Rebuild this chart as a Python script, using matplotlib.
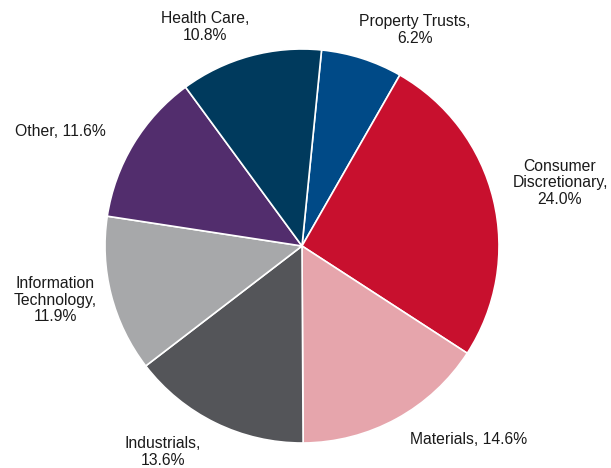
import matplotlib
matplotlib.use('Agg')
import matplotlib.pyplot as plt

# sector weights, clockwise from the top
sectors = ['Property Trusts', 'Consumer\nDiscretionary', 'Materials', 'Industrials',
           'Information\nTechnology', 'Other', 'Health Care']
weights = [6.2, 24.0, 14.6, 13.6, 11.9, 11.6, 10.8]
colors = ['#004A87', '#C8102E', '#E6A5AC', '#545559', '#A7A8AA', '#522D6D', '#003A5D']
label_fmt = ['{},\n{:.1f}%', '{},\n{:.1f}%', '{}, {:.1f}%', '{},\n{:.1f}%',
             '{},\n{:.1f}%', '{}, {:.1f}%', '{},\n{:.1f}%']

# label centres in pixel coordinates of the reference picture
label_px = [(415, 30), (560, 183), (469, 440), (163, 452), (55, 300), (60, 132), (205, 27)]

W, H = 611, 468
cx, cy, r = 302, 246, 197

plt.rcParams['font.family'] = ['Liberation Sans', 'DejaVu Sans']
fig = plt.figure(figsize=(W / 100, H / 100), dpi=100)
ax = fig.add_axes([0, 0, 1, 1])

ax.pie(weights, colors=colors, startangle=84.3, counterclock=False,
       wedgeprops=dict(edgecolor='white', linewidth=1.2))

ax.set_xlim(-cx / r, (W - cx) / r)
ax.set_ylim((cy - H) / r, cy / r)
ax.set_aspect('equal')
ax.axis('off')

for name, w, fmt, (px, py) in zip(sectors, weights, label_fmt, label_px):
    ax.text((px - cx) / r, (cy - py) / r, fmt.format(name, w),
            ha='center', va='center', fontsize=11.3, color='#1a1a1a',
            linespacing=1.15)

fig.savefig('out.png', dpi=100)
